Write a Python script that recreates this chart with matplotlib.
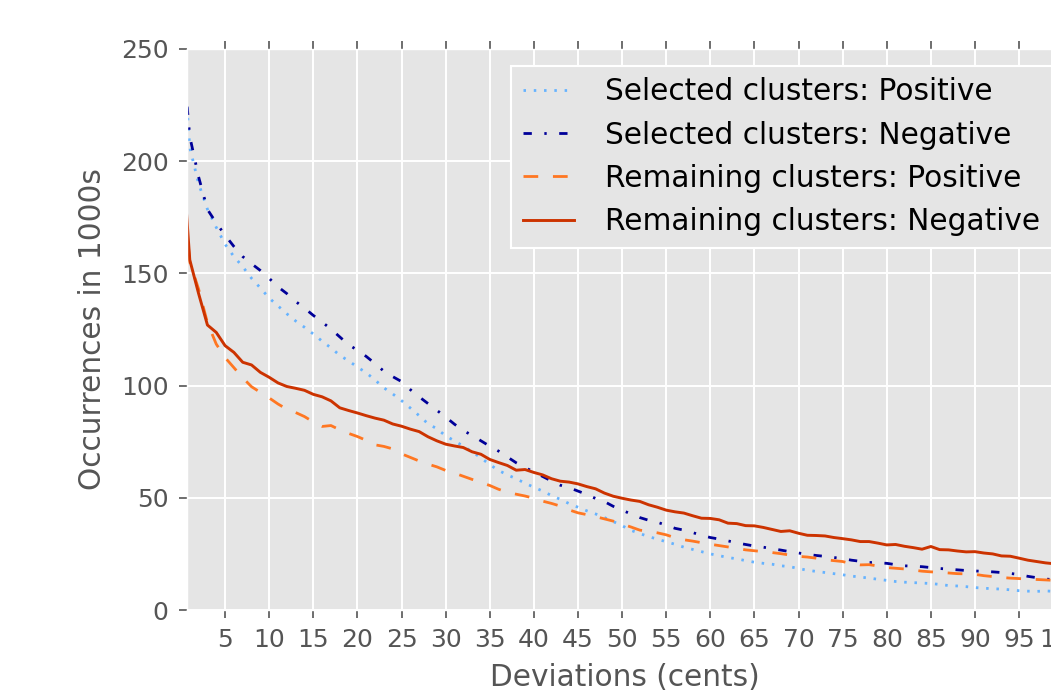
import matplotlib
matplotlib.use('Agg')
import matplotlib.pyplot as plt

# deviation in cents (x) and occurrences in 1000s for each group
cents = list(range(0, 101))

sel_pos = [265, 206, 190, 178.6, 170.5, 163, 157.5, 153, 147.8, 143.5,
           139, 135.5, 132, 128.8, 126, 123, 119.8, 116.8, 113.5, 111,
           108.3, 105.7, 102.5, 99, 96.3, 93.3, 90, 86.6, 83, 80.8,
           77.6, 75.4, 73, 70.5, 67.8, 64.8, 62.2, 60.2, 58.5, 56.5,
           54.7, 53, 51, 49.3, 47.4, 45.8, 44.2, 42.8, 41.2, 39.4,
           37.6, 35.5, 34.1, 32.7, 31.6, 30.4, 29.3, 28, 27, 26,
           25, 24.2, 23.4, 22.8, 22, 21.3, 20.8, 20.4, 19.7, 19.3,
           18.5, 17.7, 17.2, 16.7, 16.2, 15.7, 15.1, 14.7, 14.2, 13.7,
           13.2, 12.7, 12.4, 12.2, 12, 11.8, 11.4, 10.9, 10.7, 10.4,
           10.0, 9.7, 9.5, 9.3, 9.0, 8.6, 8.4, 8.3, 8.5, 8.3, 8.1]

sel_neg = [256, 211, 193, 178.5, 172.5, 167, 162, 157.5, 154.3, 151.3,
           147.8, 144, 141, 137.5, 134.5, 131.3, 128.3, 125.2, 121.7, 118.2,
           115.8, 113, 109.8, 106.4, 104, 101.8, 98.2, 95, 92, 89,
           86, 82.8, 80, 77.8, 75.4, 73, 70.8, 68.2, 65.6, 63.5,
           61.5, 59.5, 57.5, 55.6, 54.5, 53, 51.5, 49.7, 48.3, 46.2,
           44.5, 42.8, 41.2, 40, 39.1, 37.8, 36.4, 35.6, 34.5, 33.3,
           32.3, 31.6, 30.8, 29.9, 29.2, 28.5, 28, 27.3, 26.7, 26.0,
           25.4, 24.8, 24.3, 23.9, 23.4, 22.9, 22.2, 21.7, 21.2, 21.0,
           20.8, 20.2, 19.7, 19.5, 19.3, 18.9, 18.5, 18.2, 17.9, 17.6,
           17.4, 17.2, 17.0, 16.7, 16.3, 15.8, 15.0, 14.4, 13.8, 13.5, 13.2]

rem_pos = [200, 155, 143, 128, 118.5, 112.5, 108, 103.5, 99.5, 97,
           94.5, 91.8, 89.5, 88, 86.2, 83.8, 81.8, 82.2, 80.3, 78.7,
           77.3, 75.6, 73.6, 72.9, 71.8, 69.6, 68, 66.4, 65, 63.8,
           62.2, 61, 59.6, 58.2, 56.8, 55.5, 53.8, 52.5, 51.6, 50.8,
           49.8, 48.5, 47.5, 46.3, 44.6, 43.3, 42.5, 41.6, 40.6, 39.6,
           38.3, 37, 35.6, 35, 34.4, 33.5, 32.2, 31.3, 30.7, 30,
           29.3, 28.7, 28.1, 27.5, 26.8, 26.4, 26, 25.6, 25.1, 24.5,
           23.9, 23.6, 23.1, 22.4, 22, 21.6, 20.6, 20.1, 20.2, 19.6,
           18.9, 18.6, 18.3, 17.8, 17.3, 17.0, 16.8, 16.5, 16.2, 16.1,
           15.9, 15.3, 14.9, 14.5, 14.2, 14.0, 13.8, 13.6, 13.4, 13.2, 13.0]

rem_neg = [212, 156, 141, 127, 123.7, 117.8, 114.8, 110.4, 109.2, 105.9,
           103.7, 101.2, 99.6, 98.8, 97.9, 96.1, 95, 93.2, 90.1, 88.9,
           87.8, 86.6, 85.5, 84.6, 82.9, 81.9, 80.6, 79.5, 77.2, 75.4,
           73.9, 73.1, 72.4, 70.5, 69.4, 67.1, 65.7, 64.4, 62.3, 62.6,
           61.3, 60.2, 58.5, 57.4, 57.0, 56.2, 55.0, 54.0, 52.1, 50.7,
           49.8, 49.0, 48.4, 46.9, 45.8, 44.5, 43.75, 43.2, 42.0, 40.9,
           40.8, 40.2, 38.7, 38.5, 37.6, 37.5, 36.8, 35.9, 35.0, 35.3,
           34.2, 33.3, 33.2, 33.0, 32.3, 31.8, 31.25, 30.5, 30.5, 29.8,
           29.0, 29.2, 28.4, 27.8, 27.1, 28.3, 26.9, 26.8, 26.3, 25.9,
           26.0, 25.4, 25.0, 24.1, 23.96, 23.1, 22.2, 21.6, 21.0, 20.6, 20.2]

x_ticks = list(range(5, 101, 5))
y_ticks = [0, 50, 100, 150, 200, 250]

plt.rcParams['lines.scale_dashes'] = False
plt.rcParams['font.family'] = ['DejaVu Sans']
FS = 21.3       # legend and axis labels
TICK_FS = 18

W, H = 1051, 692
fig = plt.figure(figsize=(W / 100, H / 100), dpi=100)

# axes run off the right edge of the picture, like the reference
left, right, top, bottom = 186.7, 1063.2, 49.0, 610.0
ax = fig.add_axes([left / W, 1 - bottom / H, (right - left) / W, (bottom - top) / H])
ax.set_facecolor('#E5E5E5')
for s in ax.spines.values():
    s.set_color('white')
    s.set_linewidth(1)

ax.grid(True, color='white', linewidth=1.4, linestyle='-')
ax.set_axisbelow(True)

ax.plot(cents, sel_pos, color='#66B3FF', lw=2, linestyle=(0, (1.8, 5.6)),
        label='Selected clusters: Positive')
ax.plot(cents, sel_neg, color='#000099', lw=2, linestyle=(0, (6, 9, 1.7, 9)),
        label='Selected clusters: Negative')
ax.plot(cents, rem_pos, color='#FF7722', lw=2, linestyle=(0, (10.6, 10.6)),
        label='Remaining clusters: Positive')
ax.plot(cents, rem_neg, color='#CC3300', lw=2.1, linestyle='-',
        label='Remaining clusters: Negative')

ax.set_xlim(0.65, 100)
ax.set_ylim(0, 250)
ax.set_xticks(x_ticks)
ax.set_yticks(y_ticks)

ax.tick_params(axis='both', direction='out', length=6, width=1.2,
               color='#555555', labelcolor='#555555', labelsize=TICK_FS, pad=7)
ax.tick_params(axis='x', top=True)

ax.set_xlabel('Deviations (cents)', fontsize=FS, color='#555555', labelpad=8)
ax.set_ylabel('Occurrences in 1000s', fontsize=FS, color='#555555', labelpad=10)

leg_x = (510.7 - left) / (right - left)
leg_y = (bottom - 65.5) / (bottom - top)
leg = ax.legend(loc='upper left', bbox_to_anchor=(leg_x, leg_y), borderaxespad=0,
                fontsize=FS, frameon=True, fancybox=False, handlelength=1.75,
                handletextpad=1.05, labelspacing=0.48, borderpad=0.4)
frame = leg.get_frame()
frame.set_facecolor('#E5E5E5')
frame.set_edgecolor('white')
frame.set_linewidth(1.5)
frame.set_alpha(1)

fig.savefig('out.png', dpi=100)
